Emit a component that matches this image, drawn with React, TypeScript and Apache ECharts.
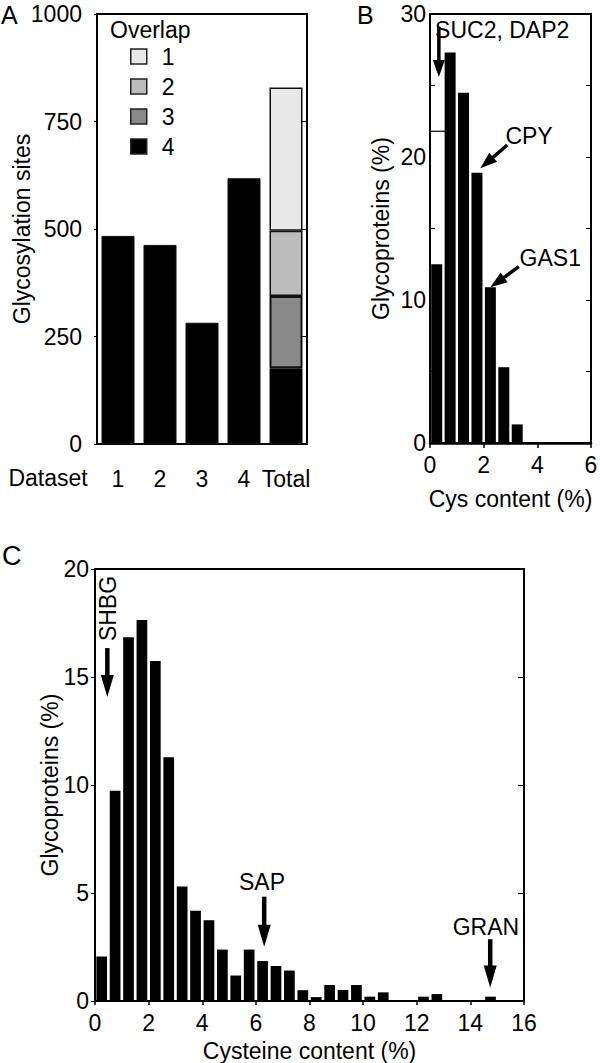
import React, { useEffect, useRef } from 'react';
import * as echarts from 'echarts';

const FONT = '"Liberation Sans", Arial, Helvetica, sans-serif';
const FS = 23;

// ---------- Panel A: glycosylation sites per dataset ----------
const datasetCategories = ['1', '2', '3', '4', 'Total'];
const overlapNames = ['1', '2', '3', '4'];
const overlap4 = [484, 463, 282, 618, 176];
const overlap3 = [null, null, null, null, 168];
const overlap2 = [null, null, null, null, 152];
const overlap1 = [null, null, null, null, 333];
const overlapColors = ['#e8e8e8', '#bcbcbc', '#898989', '#000000'];

// ---------- Panel B: yeast Cys content histogram ----------
const cysBinCenters = [0.25, 0.75, 1.25, 1.75, 2.25, 2.75, 3.25, 3.75, 4.25, 4.75, 5.25, 5.75];
const cysValues = [12.5, 27.3, 24.5, 18.9, 10.9, 5.3, 1.3, 0, 0, 0, 0, 0];

// ---------- Panel C: Cysteine content histogram ----------
const cysteineBinCenters = [
  0.25, 0.75, 1.25, 1.75, 2.25, 2.75, 3.25, 3.75, 4.25, 4.75, 5.25, 5.75, 6.25, 6.75, 7.25, 7.75,
  8.25, 8.75, 9.25, 9.75, 10.25, 10.75, 11.25, 11.75, 12.25, 12.75, 13.25, 13.75, 14.25, 14.75, 15.25, 15.75,
];
const cysteineValues = [
  2.06, 9.73, 16.84, 17.64, 15.74, 11.29, 5.3, 4.18, 3.74, 2.38, 1.18, 2.38, 1.85, 1.62, 1.41, 0.5,
  0.18, 0.74, 0.51, 0.74, 0.2, 0.4, 0, 0, 0.2, 0.32, 0, 0, 0, 0.2, 0, 0,
];

// ---------- Annotations (data coordinates) ----------
const annotationsB = [
  { label: 'SUC2, DAP2', at: [0.19, 28.9], from: [0.33, 29.1], to: [0.33, 25.6] },
  { label: 'CPY', at: [2.81, 21.47], from: [2.88, 20.84], to: [1.875, 19.21] },
  { label: 'GAS1', at: [3.34, 12.94], from: [3.31, 12.33], to: [2.25, 10.89] },
];
const annotationsC = [
  { label: 'SAP', at: [6.23, 5.51], from: [6.31, 4.83], to: [6.31, 2.51], align: 'center', rotate: false },
  { label: 'GRAN', at: [14.58, 3.43], from: [14.74, 2.86], to: [14.74, 0.63], align: 'center', rotate: false },
  { label: 'SHBG', at: [0.49, 18.17], from: [0.46, 16.34], to: [0.46, 14.07], align: 'center', rotate: true },
];

const axisLabelStyle = { fontSize: FS, fontFamily: FONT, color: '#000' };
const blackLine = { lineStyle: { color: '#000', width: 2 } };
const plainNum = (v: number) => String(v);

export default function App() {
  const ref = useRef<HTMLDivElement>(null);

  useEffect(() => {
    if (!ref.current) return;
    const chart = echarts.init(ref.current, undefined, { renderer: 'svg' });

    const stackSeries = [
      { name: '4', data: overlap4, color: overlapColors[3], bw: 1 },
      { name: '3', data: overlap3, color: overlapColors[2], bw: 2 },
      { name: '2', data: overlap2, color: overlapColors[1], bw: 1.5 },
      { name: '1', data: overlap1, color: overlapColors[0], bw: 1.5 },
    ].map((s) => ({
      type: 'bar',
      name: s.name,
      stack: 'total',
      xAxisIndex: 0,
      yAxisIndex: 0,
      barWidth: 33,
      data: s.data,
      itemStyle: { color: s.color, borderColor: '#111', borderWidth: s.bw },
    }));

    const yName = (name: string, gap: number) => ({
      name,
      nameLocation: 'middle',
      nameGap: gap,
      nameMoveOverlap: false,
      nameTextStyle: axisLabelStyle,
    });

    const option: any = {
      animation: false,
      textStyle: { fontFamily: FONT },
      grid: [
        { left: 97, top: 14, width: 210, height: 430, show: true, borderColor: '#000', borderWidth: 2, outerBoundsMode: 'none' },
        { left: 430, top: 14, width: 161, height: 429, show: true, borderColor: '#000', borderWidth: 2, outerBoundsMode: 'none' },
        { left: 95, top: 569, width: 429, height: 432, show: true, borderColor: '#000', borderWidth: 2, outerBoundsMode: 'none' },
      ],
      legend: {
        data: overlapNames,
        orient: 'vertical',
        left: 130,
        top: 45,
        padding: 0,
        itemWidth: 16,
        itemHeight: 15,
        itemGap: 7,
        icon: 'rect',
        selectedMode: false,
        textStyle: { fontSize: FS, fontFamily: FONT, color: '#000', padding: [0, 0, 0, 10] },
        itemStyle: { borderColor: '#222', borderWidth: 1.5 },
      },
      xAxis: [
        {
          type: 'category',
          gridIndex: 0,
          data: datasetCategories,
          axisLine: blackLine,
          axisTick: { show: false },
          axisLabel: { ...axisLabelStyle, margin: 23, interval: 0 },
        },
        {
          type: 'value',
          gridIndex: 1,
          min: 0,
          max: 6,
          interval: 2,
          axisLine: { lineStyle: { color: '#000', width: 2.5 } },
          axisTick: { show: true, inside: false, length: 5, lineStyle: { color: '#000', width: 1.5 } },
          axisLabel: { ...axisLabelStyle, margin: 10, formatter: plainNum },
          splitLine: { show: false },
          ...yName('Cys content (%)', 44),
        },
        {
          type: 'value',
          gridIndex: 2,
          min: 0,
          max: 16,
          interval: 2,
          axisLine: blackLine,
          axisTick: { show: true, inside: false, length: 4, lineStyle: { color: '#000', width: 1.5 } },
          axisLabel: { ...axisLabelStyle, margin: 10, formatter: plainNum },
          splitLine: { show: false },
          ...yName('Cysteine content (%)', 38),
        },
      ],
      yAxis: [
        {
          type: 'value',
          gridIndex: 0,
          min: 0,
          max: 1000,
          interval: 250,
          axisLine: { show: true, ...blackLine },
          axisTick: { show: true, inside: false, length: 3, lineStyle: { color: '#000' } },
          axisLabel: { ...axisLabelStyle, margin: 15, formatter: plainNum },
          splitLine: { show: false },
          ...yName('Glycosylation sites', 64),
        },
        {
          type: 'value',
          gridIndex: 0,
          position: 'right',
          min: 0,
          max: 1000,
          interval: 250,
          axisLine: { show: true, ...blackLine },
          axisTick: { show: true, inside: true, length: 6, lineStyle: { color: '#000' } },
          axisLabel: { show: false },
          splitLine: { show: false },
        },
        {
          type: 'value',
          gridIndex: 1,
          min: 0,
          max: 30,
          interval: 10,
          axisLine: { show: true, ...blackLine },
          axisTick: { show: true, inside: true, length: 5, customValues: [5, 15, 25], lineStyle: { color: '#000' } },
          axisLabel: { ...axisLabelStyle, margin: 4, formatter: plainNum },
          splitLine: { show: false },
          ...yName('Glycoproteins (%)', 38),
        },
        {
          type: 'value',
          gridIndex: 1,
          position: 'right',
          min: 0,
          max: 30,
          interval: 5,
          axisLine: { show: true, ...blackLine },
          axisTick: { show: true, inside: true, length: 5, lineStyle: { color: '#000' } },
          axisLabel: { show: false },
          splitLine: { show: false },
        },
        {
          type: 'value',
          gridIndex: 2,
          min: 0,
          max: 20,
          interval: 5,
          axisLine: { show: true, ...blackLine },
          axisTick: { show: true, inside: false, length: 4, lineStyle: { color: '#000' } },
          axisLabel: { ...axisLabelStyle, margin: 6, formatter: plainNum },
          splitLine: { show: false },
          ...yName('Glycoproteins (%)', 34),
        },
        {
          type: 'value',
          gridIndex: 2,
          position: 'right',
          min: 0,
          max: 20,
          interval: 5,
          axisLine: { show: true, ...blackLine },
          axisTick: { show: true, inside: true, length: 6, lineStyle: { color: '#000' } },
          axisLabel: { show: false },
          splitLine: { show: false },
        },
      ],
      series: [
        ...stackSeries,
        {
          type: 'bar',
          name: 'Yeast',
          xAxisIndex: 1,
          yAxisIndex: 2,
          barWidth: 11,
          data: cysBinCenters.map((x, i) => [x, cysValues[i]]),
          itemStyle: { color: '#000' },
        },
        {
          type: 'bar',
          name: 'Human',
          xAxisIndex: 2,
          yAxisIndex: 4,
          barWidth: 10.7,
          data: cysteineBinCenters.map((x, i) => [x, cysteineValues[i]]),
          itemStyle: { color: '#000' },
        },
      ],
    };

    chart.setOption(option);

    const px = (si: number, p: number[]) => chart.convertToPixel({ seriesIndex: si }, p) as unknown as number[];
    const graphics: any[] = [];
    const txt = (text: string, x: number, y: number, size: number, align = 'left', rotation = 0, vAlign = 'middle') => ({
      type: 'text',
      x,
      y,
      rotation,
      silent: true,
      style: { text, fontSize: size, fontFamily: FONT, fill: '#000', align, verticalAlign: vAlign },
    });
    const arrow = (s: number[], t: number[], headLen: number, headW: number, shaft: number) => {
      const dx = t[0] - s[0];
      const dy = t[1] - s[1];
      const len = Math.hypot(dx, dy);
      const ux = dx / len;
      const uy = dy / len;
      const bx = t[0] - ux * headLen;
      const by = t[1] - uy * headLen;
      const nx = -uy;
      const ny = ux;
      graphics.push({
        type: 'line',
        silent: true,
        shape: { x1: s[0], y1: s[1], x2: bx + ux * 1, y2: by + uy * 1 },
        style: { stroke: '#000', lineWidth: shaft },
      });
      graphics.push({
        type: 'polygon',
        silent: true,
        shape: { points: [[t[0], t[1]], [bx + (nx * headW) / 2, by + (ny * headW) / 2], [bx - (nx * headW) / 2, by - (ny * headW) / 2]] },
        style: { fill: '#000' },
      });
    };

    annotationsB.forEach((a) => {
      const p = px(4, a.at);
      graphics.push(txt(a.label, p[0], p[1], FS, 'left'));
      arrow(px(4, a.from), px(4, a.to), 17, 12, 3.5);
    });
    annotationsC.forEach((a) => {
      const p = px(5, a.at);
      graphics.push(txt(a.label, p[0], p[1], FS, a.align, a.rotate ? Math.PI / 2 : 0));
      arrow(px(5, a.from), px(5, a.to), 22, 13, 4.5);
    });

    // stray short line near the top-left of panel B
    const l1 = px(4, [0, 21.8]);
    const l2 = px(4, [0.6, 21.8]);
    graphics.push({ type: 'line', silent: true, shape: { x1: l1[0], y1: l1[1], x2: l2[0], y2: l2[1] }, style: { stroke: '#000', lineWidth: 1.2 } });

    graphics.push(txt('A', 1, 2, 25, 'left', 0, 'top'));
    graphics.push(txt('B', 357, 2, 25, 'left', 0, 'top'));
    graphics.push(txt('C', 2, 542, 27, 'left', 0, 'top'));
    graphics.push(txt('Dataset', 48, 478, FS, 'center'));
    graphics.push(txt('Overlap', 110, 30, FS, 'left'));

    chart.setOption({ graphic: graphics });

    return () => chart.dispose();
  }, []);

  return <div ref={ref} style={{ position: 'absolute', left: 0, top: 0, width: 600, height: 1063, background: '#fff' }} />;
}
